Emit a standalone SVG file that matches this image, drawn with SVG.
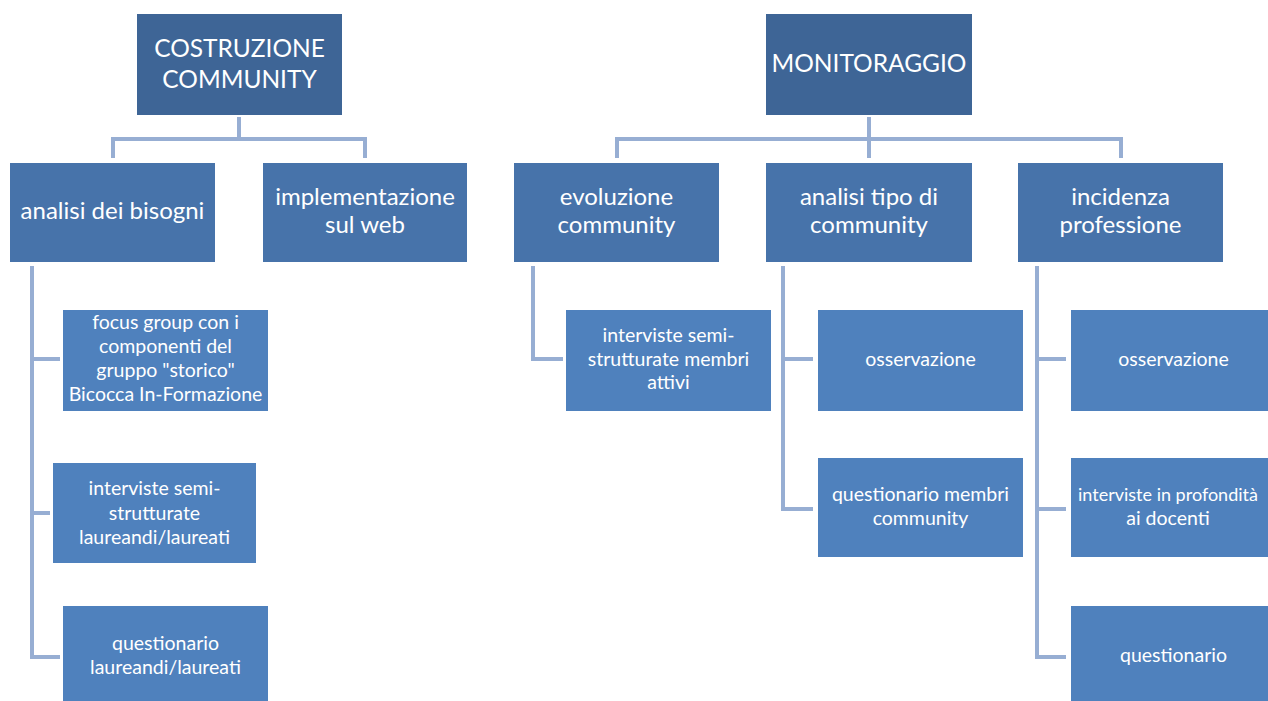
<svg xmlns="http://www.w3.org/2000/svg" width="1268" height="701" viewBox="0 0 1268 701">
<style>
.l1{fill:#3E6596}
.l2{fill:#4773AA}
.l3{fill:#4F81BD}
text{font-family:Lato,"Open Sans","Liberation Sans",sans-serif;fill:#ffffff;text-anchor:middle}
.t1{font-size:24.5px}
.t2{font-size:24px}
.t3{font-size:19.5px}
.c{fill:none;stroke:#97AED3;stroke-width:4}
</style>
<rect width="1268" height="701" fill="#ffffff"/>
<g id="connectors">
<path class="c" d="M239,117 V139 M113,158 V139 H365 V158"/>
<path class="c" d="M869,117 V139 M617,158 V139 H1121 V158 M869,139 V158"/>
<path class="c" d="M32,266 V657 H60 M32,359 H60 M32,513 H50"/>
<path class="c" d="M533,266 V359 H563"/>
<path class="c" d="M783,266 V509 H813 M783,359 H813"/>
<path class="c" d="M1037,266 V657 H1066 M1037,359 H1066 M1037,509 H1066"/>
</g>
<g id="costruzione"><rect class="l1" x="137" y="14" width="205" height="101"/><text class="t1" x="239.5" y="57">COSTRUZIONE</text><text class="t1" x="239.5" y="88">COMMUNITY</text></g>
<g id="monitoraggio"><rect class="l1" x="766" y="14" width="206" height="101"/><text class="t1" x="869" y="72">MONITORAGGIO</text></g>
<g id="analisi-bisogni"><rect class="l2" x="10" y="163" width="205" height="99"/><text class="t2" x="112.5" y="219">analisi dei bisogni</text></g>
<g id="implementazione"><rect class="l2" x="263" y="163" width="204" height="99"/><text class="t2" x="365" y="205">implementazione</text><text class="t2" x="365" y="233">sul web</text></g>
<g id="evoluzione"><rect class="l2" x="514" y="163" width="205" height="99"/><text class="t2" x="616.5" y="205">evoluzione</text><text class="t2" x="616.5" y="233">community</text></g>
<g id="analisi-tipo"><rect class="l2" x="766" y="163" width="206" height="99"/><text class="t2" x="869" y="205">analisi tipo di</text><text class="t2" x="869" y="233">community</text></g>
<g id="incidenza"><rect class="l2" x="1018" y="163" width="205" height="99"/><text class="t2" x="1120.5" y="205">incidenza</text><text class="t2" x="1120.5" y="233">professione</text></g>
<g id="focus-group"><rect class="l3" x="63" y="310" width="205" height="101"/><text class="t3" x="165.5" y="329">focus group con i</text><text class="t3" x="165.5" y="353">componenti  del</text><text class="t3" x="165.5" y="377">gruppo "storico"</text><text class="t3" x="165.5" y="401">Bicocca In-Formazione</text></g>
<g id="interviste-laureandi"><rect class="l3" x="53" y="463" width="203" height="100"/><text class="t3" x="154.5" y="495">interviste semi-</text><text class="t3" x="154.5" y="520">strutturate</text><text class="t3" x="154.5" y="544">laureandi/laureati</text></g>
<g id="questionario-laureandi"><rect class="l3" x="63" y="606" width="205" height="95"/><text class="t3" x="165.5" y="650">questionario</text><text class="t3" x="165.5" y="674">laureandi/laureati</text></g>
<g id="interviste-membri"><rect class="l3" x="566" y="310" width="205" height="101"/><text class="t3" x="668.5" y="342">interviste semi-</text><text class="t3" x="668.5" y="366">strutturate membri</text><text class="t3" x="668.5" y="389">attivi</text></g>
<g id="osservazione-1"><rect class="l3" x="818" y="310" width="205" height="101"/><text class="t3" x="920.5" y="366">osservazione</text></g>
<g id="questionario-membri"><rect class="l3" x="818" y="458" width="205" height="99"/><text class="t3" x="920.5" y="501">questionario membri</text><text class="t3" x="920.5" y="525">community</text></g>
<g id="osservazione-2"><rect class="l3" x="1071" y="310" width="205" height="101"/><text class="t3" x="1173.5" y="366">osservazione</text></g>
<g id="interviste-docenti"><rect class="l3" x="1071" y="458" width="205" height="99"/><text class="t3" x="1168" y="501" style="font-size:18px">interviste in profondità</text><text class="t3" x="1168" y="525">ai docenti</text></g>
<g id="questionario"><rect class="l3" x="1071" y="606" width="205" height="95"/><text class="t3" x="1173.5" y="662">questionario</text></g>
</svg>
